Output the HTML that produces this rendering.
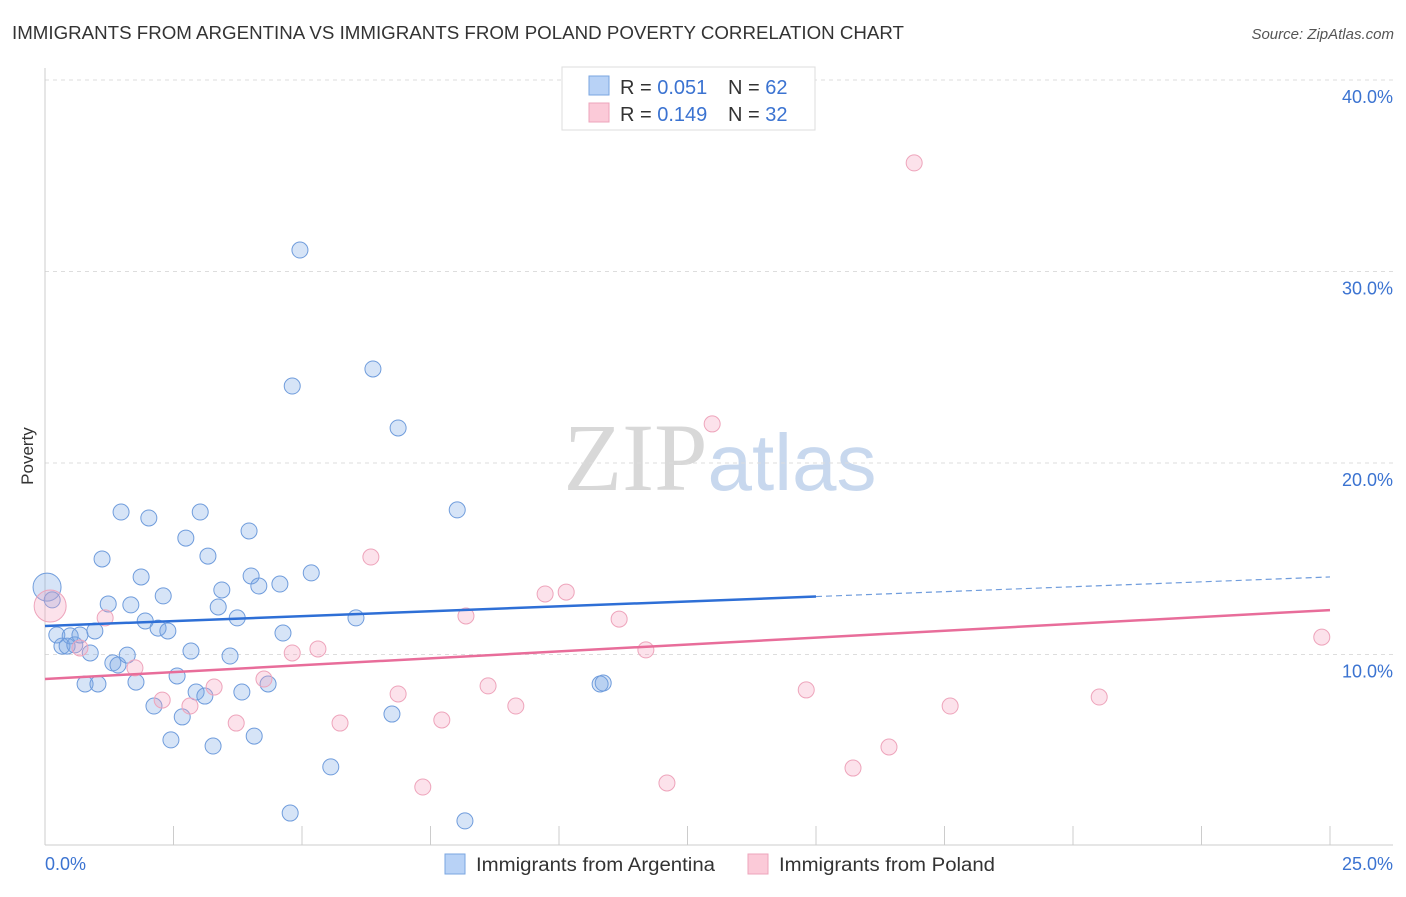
<!DOCTYPE html>
<html><head><meta charset="utf-8"><style>
body{margin:0;background:#fff;font-family:"Liberation Sans",sans-serif;}
svg text{font-family:"Liberation Sans",sans-serif;}
</style></head><body>
<svg id="chart" width="1406" height="892" xmlns="http://www.w3.org/2000/svg">
<text x="12" y="39" font-size="18" fill="#333" textLength="892" lengthAdjust="spacingAndGlyphs">IMMIGRANTS FROM ARGENTINA VS IMMIGRANTS FROM POLAND POVERTY CORRELATION CHART</text>
<text x="1394" y="39" font-size="15" fill="#555" font-style="italic" text-anchor="end">Source: ZipAtlas.com</text>
<text x="720" y="490" font-size="96" text-anchor="middle"><tspan fill="#d8d8d8" font-family="Liberation Serif">ZIP</tspan><tspan fill="#c8d8ee" font-size="80">atlas</tspan></text>
<text x="33" y="456" font-size="17" fill="#333" text-anchor="middle" transform="rotate(-90 33 456)">Poverty</text>
<g id="grid"></g><g id="axes"></g><g id="marks"></g>
<g>
<rect x="562" y="67" width="253" height="63" fill="#fff" stroke="#ddd"/>
<rect x="589" y="76" width="20" height="19" fill="#b8d2f6" stroke="#7aa6e0"/>
<rect x="589" y="103" width="20" height="19" fill="#fbcad8" stroke="#eea4bb"/>
<text x="620" y="94" font-size="20" fill="#333">R = <tspan fill="#3b73d1">0.051</tspan><tspan x="728">N = </tspan><tspan fill="#3b73d1">62</tspan></text>
<text x="620" y="121" font-size="20" fill="#333">R = <tspan fill="#3b73d1"> 0.149</tspan><tspan x="728">N = </tspan><tspan fill="#3b73d1">32</tspan></text>
</g>
<g>
<rect x="445" y="854" width="20" height="20" fill="#b8d2f6" stroke="#7aa6e0"/>
<text x="476" y="871" font-size="19" fill="#333" textLength="239" lengthAdjust="spacingAndGlyphs">Immigrants from Argentina</text>
<rect x="748" y="854" width="20" height="20" fill="#fbcad8" stroke="#eea4bb"/>
<text x="779" y="871" font-size="19" fill="#333" textLength="216" lengthAdjust="spacingAndGlyphs">Immigrants from Poland</text>
</g>
</svg>
<script>
const blueX=[0.04,0.14,0.23,0.33,0.49,0.43,0.58,0.68,0.78,0.88,0.97,1.03,1.11,1.23,1.32,1.42,1.48,1.60,1.67,1.77,1.87,1.95,2.02,2.12,2.20,2.30,2.39,2.45,2.57,2.67,2.74,2.84,2.94,3.02,3.11,3.17,3.27,3.37,3.44,3.60,3.74,3.83,3.97,4.01,4.07,4.16,4.34,4.57,4.63,4.77,4.81,4.96,5.18,5.56,6.05,6.38,6.75,6.87,8.02,8.17,10.80,10.86];
const blueY=[13.52,12.85,11.02,10.44,10.97,10.44,10.50,11.02,8.46,10.08,11.23,8.46,14.99,12.64,9.56,9.45,17.44,9.97,12.59,8.56,14.05,11.75,17.13,7.31,11.38,13.06,11.23,5.54,8.88,6.74,16.08,10.18,8.04,17.44,7.83,15.14,5.22,12.48,13.37,9.92,11.91,8.04,16.45,14.10,5.74,13.58,8.46,13.68,11.12,1.72,24.02,31.12,14.26,4.13,11.91,24.91,6.89,21.83,17.55,1.31,8.46,8.51];
const pinkX=[0.10,0.68,1.17,1.75,2.28,2.82,3.29,3.72,4.26,4.81,5.31,5.74,6.34,6.87,7.35,7.72,8.19,8.62,9.16,9.73,10.14,11.17,11.69,12.10,12.98,14.81,15.72,16.42,16.91,17.61,20.51,24.84];
const pinkY=[12.53,10.34,11.91,9.30,7.62,7.31,8.30,6.42,8.72,10.08,10.29,6.42,15.09,7.94,3.08,6.58,12.01,8.36,7.31,13.16,13.26,11.85,10.24,3.29,22.04,8.15,4.07,5.17,35.67,7.31,7.78,10.91];
const yTicks=[10,20,30,40];
const yTickLabels=["10.0%","20.0%","30.0%","40.0%"];
const xTicks=[0,2.5,5,7.5,10,12.5,15,17.5,20,22.5,25];
const blueTrend=[11.49,14.05];
const pinkTrend=[8.72,12.32];
const blueSolidEnd=15;
const NS="http://www.w3.org/2000/svg";
const sx=v=>45+v*(1285/25);
const sy=v=>846-v*19.15;
function mk(tag,parent,attrs){const e=document.createElementNS(NS,tag);for(const k in attrs)e.setAttribute(k,attrs[k]);document.getElementById(parent).appendChild(e);return e;}
yTicks.forEach((t,i)=>{
 const g=mk('line','grid',{x1:45,x2:1393,y1:sy(t),y2:sy(t),stroke:'#ddd','stroke-dasharray':'4,4'});
 
 
 const l=mk('text','axes',{x:1393,y:sy(t)+23,'font-size':18,fill:'#3b73d1','text-anchor':'end'});
 l.textContent=yTickLabels[i];
 
 
});
mk('line','axes',{x1:45,x2:1393,y1:845,y2:845,stroke:'#ccc'});
mk('line','axes',{x1:45,x2:45,y1:68,y2:845,stroke:'#ccc'});
xTicks.forEach(t=>{
 const k=mk('line','axes',{x1:sx(t),x2:sx(t),y1:826,y2:845,stroke:'#ccc'});
 
 
});
const x0=mk('text','axes',{x:45,y:870,'font-size':18,fill:'#3b73d1'});x0.textContent='0.0%';


const x1=mk('text','axes',{x:1393,y:870,'font-size':18,fill:'#3b73d1','text-anchor':'end'});x1.textContent='25.0%';


blueX.forEach((v,i)=>{
 const c=mk('circle','marks',{cx:sx(v),cy:sy(blueY[i]),r:i===0?14:8,fill:'rgba(120,165,230,0.3)',stroke:'#6f9cdc','stroke-width':1});
 
 
});
pinkX.forEach((v,i)=>{
 const c=mk('circle','marks',{cx:sx(v),cy:sy(pinkY[i]),r:i===0?16:8,fill:'rgba(245,160,190,0.3)',stroke:'#eea4bb','stroke-width':1});
 
 
});
const bAt=x=>blueTrend[0]+(blueTrend[1]-blueTrend[0])*x/25;
const bl=mk('line','marks',{x1:sx(0),y1:sy(bAt(0)),x2:sx(blueSolidEnd),y2:sy(bAt(blueSolidEnd)),stroke:'#2e6fd6','stroke-width':2.5});


const bd=mk('line','marks',{x1:sx(blueSolidEnd),y1:sy(bAt(blueSolidEnd)),x2:sx(25),y2:sy(bAt(25)),stroke:'#6f9cdc','stroke-width':1.2,'stroke-dasharray':'6,4'});


const pl=mk('line','marks',{x1:sx(0),y1:sy(pinkTrend[0]),x2:sx(25),y2:sy(pinkTrend[1]),stroke:'#e86d9a','stroke-width':2.5});


</script>
</body></html>
